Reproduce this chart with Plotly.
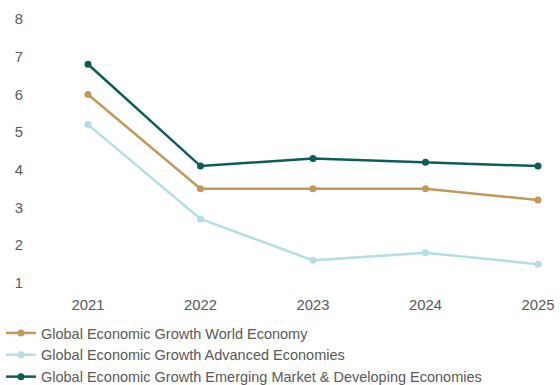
import plotly.graph_objects as go

# Global economic growth (%), by economy group
years = [2021, 2022, 2023, 2024, 2025]
world_economy = [6.0, 3.5, 3.5, 3.5, 3.2]
advanced_economies = [5.2, 2.7, 1.6, 1.8, 1.5]
emerging_developing = [6.8, 4.1, 4.3, 4.2, 4.1]

series_names = [
    "Global Economic Growth World Economy",
    "Global Economic Growth Advanced Economies",
    "Global Economic Growth Emerging Market & Developing Economies",
]
series_colors = ["#C4975A", "#B3DFE4", "#0B5E58"]
series_values = [world_economy, advanced_economies, emerging_developing]

y_ticks = [1, 2, 3, 4, 5, 6, 7, 8]

TEXT_COLOR = "#595959"
FONT = "Liberation Sans"

fig = go.Figure()
for name, color, values in zip(series_names, series_colors, series_values):
    fig.add_trace(
        go.Scatter(
            x=years,
            y=values,
            name=name,
            mode="lines+markers",
            line=dict(color=color, width=2.5),
            marker=dict(color=color, size=7),
            cliponaxis=False,
        )
    )

fig.update_layout(
    width=560,
    height=385,
    margin=dict(l=24, r=0, t=19, b=102),
    paper_bgcolor="white",
    plot_bgcolor="white",
    font=dict(family=FONT, size=14.5, color=TEXT_COLOR),
    showlegend=True,
    legend=dict(
        orientation="v",
        x=-0.043,
        xanchor="left",
        yref="container",
        y=1 - 317 / 385,
        yanchor="top",
        font=dict(family=FONT, size=14.5, color=TEXT_COLOR),
        bgcolor="rgba(0,0,0,0)",
        itemwidth=30,
    ),
    xaxis=dict(
        range=[2020.4311, 2025.1956],
        tickvals=years,
        ticktext=[str(y) for y in years],
        showgrid=False,
        zeroline=False,
        showline=False,
        ticks="",
        ticklabelstandoff=11,
        tickfont=dict(family=FONT, size=14.8, color=TEXT_COLOR),
    ),
    yaxis=dict(
        range=[1, 8],
        tickvals=y_ticks,
        showgrid=False,
        zeroline=False,
        showline=False,
        ticks="",
        ticklabelstandoff=0,
        tickfont=dict(family=FONT, size=14.8, color=TEXT_COLOR),
    ),
)

fig.write_html("out.html")
